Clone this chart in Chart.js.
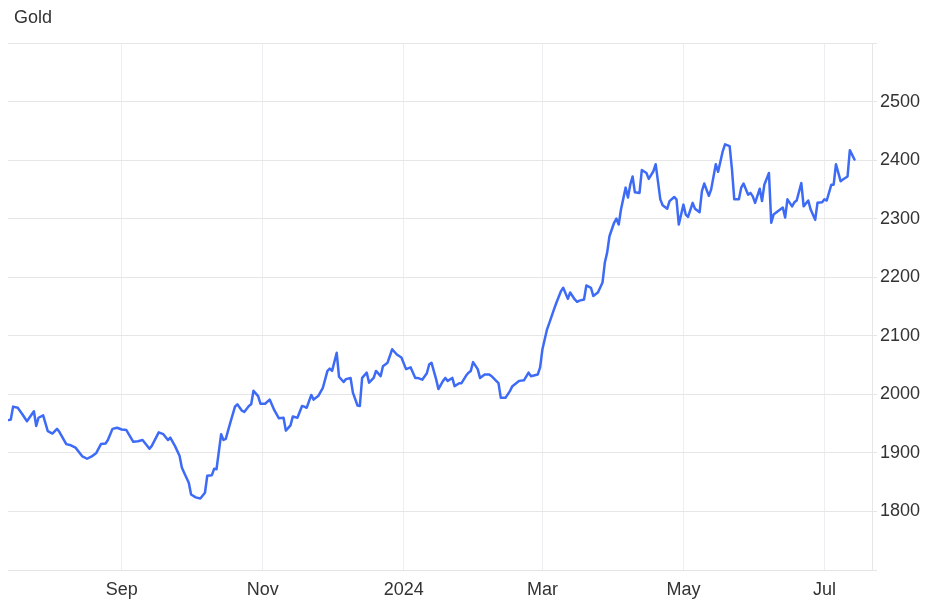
<!DOCTYPE html>
<html><head><meta charset="utf-8">
<script src="https://cdn.jsdelivr.net/npm/chart.js@4/dist/chart.umd.min.js"></script>
<style>html,body{margin:0;padding:0;background:#fff;}#wrap{width:937px;height:616px;}</style>
</head><body><div id="wrap"><canvas id="c" width="937" height="616"></canvas></div>
<script>
const chartTitle = 'Gold';

const dates = [
'2023-07-14','2023-07-15','2023-07-16','2023-07-18','2023-07-20','2023-07-22','2023-07-25','2023-07-26','2023-07-27','2023-07-29',
'2023-07-31','2023-08-02','2023-08-04','2023-08-05','2023-08-08','2023-08-10','2023-08-12','2023-08-15','2023-08-17','2023-08-19',
'2023-08-21','2023-08-23','2023-08-25','2023-08-26','2023-08-28','2023-08-30','2023-09-01','2023-09-03','2023-09-06','2023-09-08',
'2023-09-10','2023-09-13','2023-09-14','2023-09-17','2023-09-19','2023-09-21','2023-09-22','2023-09-24','2023-09-26','2023-09-27',
'2023-09-28','2023-09-30','2023-10-01','2023-10-03','2023-10-05','2023-10-07','2023-10-08','2023-10-10','2023-10-11','2023-10-12',
'2023-10-14','2023-10-15','2023-10-16','2023-10-18','2023-10-20','2023-10-21','2023-10-23','2023-10-24','2023-10-26','2023-10-27',
'2023-10-28','2023-10-30','2023-10-31','2023-11-02','2023-11-04','2023-11-06','2023-11-08','2023-11-10','2023-11-11','2023-11-13',
'2023-11-14','2023-11-16','2023-11-18','2023-11-19','2023-11-20','2023-11-22','2023-11-23','2023-11-25','2023-11-27','2023-11-29',
'2023-11-30','2023-12-01','2023-12-03','2023-12-04','2023-12-06','2023-12-07','2023-12-09','2023-12-10','2023-12-12','2023-12-13',
'2023-12-14','2023-12-16','2023-12-17','2023-12-19','2023-12-20','2023-12-22','2023-12-23','2023-12-25','2023-12-27','2023-12-29',
'2023-12-31','2024-01-02','2024-01-04','2024-01-06','2024-01-07','2024-01-09','2024-01-11','2024-01-12','2024-01-13','2024-01-15',
'2024-01-16','2024-01-18','2024-01-19','2024-01-20','2024-01-22','2024-01-23','2024-01-25','2024-01-26','2024-01-28','2024-01-29',
'2024-01-30','2024-01-31','2024-02-02','2024-02-03','2024-02-05','2024-02-07','2024-02-08','2024-02-10','2024-02-11','2024-02-12',
'2024-02-14','2024-02-16','2024-02-17','2024-02-20','2024-02-22','2024-02-24','2024-02-25','2024-02-28','2024-02-29','2024-03-01',
'2024-03-03','2024-03-04','2024-03-06','2024-03-07','2024-03-09','2024-03-10','2024-03-12','2024-03-13','2024-03-15','2024-03-16',
'2024-03-17','2024-03-19','2024-03-20','2024-03-22','2024-03-23','2024-03-25','2024-03-27','2024-03-28','2024-03-29','2024-03-30',
'2024-04-01','2024-04-02','2024-04-03','2024-04-04','2024-04-06','2024-04-07','2024-04-08','2024-04-09','2024-04-10','2024-04-12',
'2024-04-13','2024-04-15','2024-04-16','2024-04-18','2024-04-19','2024-04-21','2024-04-22','2024-04-24','2024-04-25','2024-04-27',
'2024-04-28','2024-04-29','2024-05-01','2024-05-02','2024-05-03','2024-05-05','2024-05-06','2024-05-08','2024-05-09','2024-05-10',
'2024-05-12','2024-05-13','2024-05-15','2024-05-16','2024-05-18','2024-05-19','2024-05-21','2024-05-22','2024-05-23','2024-05-25',
'2024-05-26','2024-05-27','2024-05-29','2024-05-30','2024-05-31','2024-06-01','2024-06-03','2024-06-04','2024-06-05','2024-06-07',
'2024-06-08','2024-06-09','2024-06-11','2024-06-13','2024-06-14','2024-06-15','2024-06-17','2024-06-18','2024-06-19','2024-06-21',
'2024-06-22','2024-06-24','2024-06-25','2024-06-27','2024-06-28','2024-06-30','2024-07-01','2024-07-02','2024-07-04','2024-07-05',
'2024-07-06','2024-07-08','2024-07-09','2024-07-11','2024-07-12','2024-07-14'
];

const values = [
1956,1957,1979,1977,1966,1954,1971,1946,1960,1964,
1937,1933,1941,1936,1915,1913,1909,1894,1890,1894,
1900,1915,1916,1922,1941,1943,1940,1939,1919,1920,
1922,1907,1912,1935,1932,1922,1926,1912,1895,1875,
1866,1849,1829,1824,1822,1832,1861,1862,1873,1872,
1932,1922,1924,1952,1979,1983,1972,1970,1980,1983,
2006,1997,1984,1984,1991,1973,1959,1960,1938,1947,
1962,1960,1980,1979,1977,1999,1991,1997,2011,2040,
2044,2040,2071,2030,2021,2026,2028,2003,1981,1980,
2028,2037,2020,2028,2040,2031,2048,2054,2077,2068,
2063,2043,2046,2028,2028,2025,2036,2051,2054,2026,
2009,2023,2028,2023,2028,2014,2019,2019,2032,2037,
2040,2055,2043,2028,2034,2034,2031,2023,2019,1994,
1994,2006,2014,2023,2024,2037,2031,2034,2046,2077,
2111,2122,2145,2156,2176,2182,2163,2174,2162,2158,
2160,2162,2186,2182,2168,2174,2191,2225,2242,2270,
2293,2300,2290,2316,2353,2336,2358,2372,2345,2344,
2383,2378,2368,2381,2393,2333,2323,2317,2330,2337,
2333,2290,2324,2307,2303,2327,2317,2311,2347,2360,
2339,2350,2393,2380,2415,2427,2424,2384,2333,2333,
2353,2360,2341,2344,2338,2327,2351,2330,2358,2378,
2293,2307,2313,2319,2302,2333,2321,2328,2331,2361,
2321,2331,2316,2298,2327,2328,2333,2331,2358,2358,
2393,2364,2367,2372,2417,2401
];

const xTickDates = ['2023-09-01','2023-11-01','2024-01-01','2024-03-01','2024-05-01','2024-07-01'];
const xTickLabels = ['Sep','Nov','2024','Mar','May','Jul'];
const yTickValues = [1800,1900,2000,2100,2200,2300,2400,2500];
const yRange = [1700, 2600];
const xRange = ['2023-07-13T19:00:00Z','2024-07-21T14:00:00Z'];

const dayNum = s => Date.parse(s.length === 10 ? s + 'T00:00:00Z' : s) / 86400000;
const FONT = "'Liberation Sans', Arial, Helvetica, sans-serif";

const titleShift = {
  id: 'titleShift',
  afterLayout(chart) { if (chart.titleBlock) { chart.titleBlock.left = 14; } }
};

new Chart(document.getElementById('c'), {
  type: 'line',
  data: {
    datasets: [{
      label: chartTitle,
      data: dates.map((d, i) => ({ x: dayNum(d), y: values[i] })),
      borderColor: '#3d6bf6',
      borderWidth: 2.5,
      borderJoinStyle: 'round',
      borderCapStyle: 'round',
      pointRadius: 0,
      pointHoverRadius: 0,
      tension: 0,
      fill: false
    }]
  },
  options: {
    responsive: false,
    animation: false,
    devicePixelRatio: 1,
    layout: { padding: { left: 8, right: 0, top: 0, bottom: 0 } },
    plugins: {
      legend: { display: false },
      tooltip: { enabled: false },
      title: {
        display: true, text: chartTitle, align: 'start', color: '#333',
        font: { family: FONT, size: 18, weight: 'normal', lineHeight: 1.2 },
        padding: { top: 7.5, bottom: 13.9 }
      }
    },
    scales: {
      x: {
        type: 'linear',
        min: dayNum(xRange[0]),
        max: dayNum(xRange[1]),
        afterBuildTicks: s => { s.ticks = xTickDates.map(d => ({ value: dayNum(d) })); },
        afterFit: s => { s.height = 46; },
        grid: { color: '#eceef2', lineWidth: 1, drawTicks: false },
        border: { color: '#e4e4e4' },
        ticks: {
          autoSkip: false, maxRotation: 0, padding: 9, color: '#333',
          font: { family: FONT, size: 18 },
          callback: (v, i) => xTickLabels[i]
        }
      },
      y: {
        position: 'right',
        min: yRange[0],
        max: yRange[1],
        afterFit: s => { s.width = 65; },
        grid: { color: '#e6e6e6', lineWidth: 1, drawTicks: true, tickLength: 5 },
        border: { color: '#e6e6e6' },
        ticks: {
          stepSize: 100, padding: 3, color: '#333',
          font: { family: FONT, size: 18 },
          callback: v => yTickValues.includes(v) ? String(v) : ''
        }
      }
    }
  },
  plugins: [titleShift]
});
</script>
</body></html>
